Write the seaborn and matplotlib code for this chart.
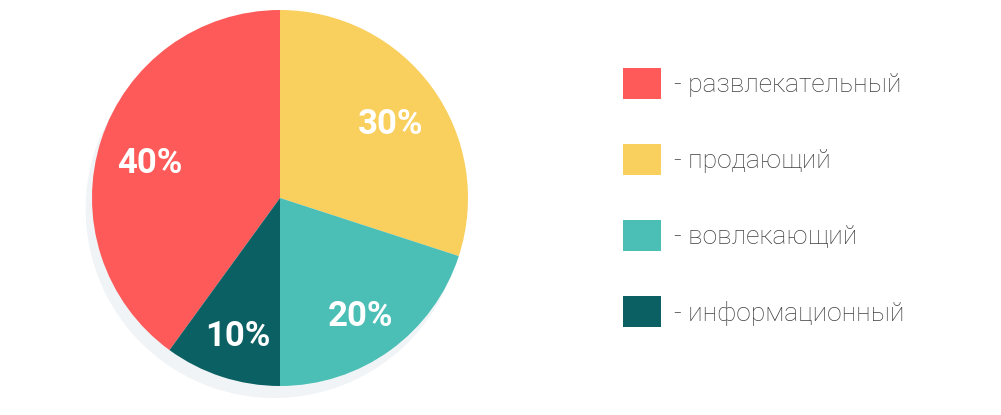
import matplotlib
matplotlib.use("Agg")
import matplotlib.pyplot as plt
from matplotlib.patches import Circle
import seaborn as sns

# data
categories = ["развлекательный", "продающий", "вовлекающий", "информационный"]
shares = [40, 30, 20, 10]
colors = ["#FD5A59", "#F9CF5E", "#4BBFB6", "#0B6063"]

sns.set_theme(style="white")
plt.rcParams["font.family"] = ["Roboto", "DejaVu Sans"]

fig = plt.figure(figsize=(10.01, 4.15), dpi=100)
fig.patch.set_facecolor("white")

# pie axes: centre (280, 198) px, radius ~188 px
W, H = 1001, 415
r_px = 188
ax = fig.add_axes([(280 - r_px) / W, (H - 198 - r_px) / H, 2 * r_px / W, 2 * r_px / H])
ax.set_aspect("equal")
ax.axis("off")

# soft shadow behind the pie
shadow = Circle((-0.03, -0.06), 1.0, color="#F0F4F6", zorder=0, clip_on=False)
ax.add_patch(shadow)

wedges, _, autotexts = ax.pie(
    shares,
    colors=colors,
    startangle=234,
    counterclock=False,
    radius=1.0,
    autopct="%d%%",
    pctdistance=0.73,
    wedgeprops=dict(linewidth=0),
    textprops=dict(color="white", fontsize=25, fontweight="bold"),
)
for w in wedges:
    w.set_zorder(2)
    w.set_clip_on(False)
for t in autotexts:
    t.set_zorder(3)
    x, y = t.get_position()
    t.set_position((x, y - 0.04))

ax.set_xlim(-1, 1)
ax.set_ylim(-1, 1)

leg = fig.legend(
    wedges,
    ["- " + c for c in categories],
    loc="upper left",
    bbox_to_anchor=(612 / W, 1 - 57 / H),
    frameon=False,
    fontsize=19,
    handlelength=1.45,
    handleheight=1.45,
    handletextpad=0.5,
    labelspacing=1.7,
    borderaxespad=0,
)
for t in leg.get_texts():
    t.set_color("#3F3F3F")
    t.set_fontweight("light")

fig.savefig("out.png", dpi=100, facecolor="white")
